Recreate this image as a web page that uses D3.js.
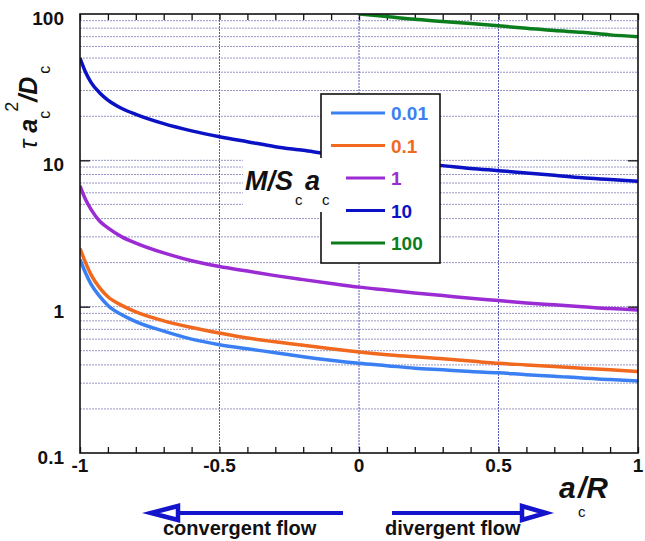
<!DOCTYPE html>
<meta charset="utf-8">
<style>
    body { margin: 0; background: #fff; }
    svg text { font-family: Arial, "Liberation Sans", sans-serif; }
    .tick-label { font-size: 19px; font-weight: bold; fill: #111; }
    .legend-label { font-size: 19px; font-weight: bold; }
    .flow-label { font-size: 20px; font-weight: bold; fill: #111; }
</style>
<svg class="chart" width="645" height="541"></svg>
<script src="https://cdn.jsdelivr.net/npm/d3@7/dist/d3.min.js"></script>
<script>
    var xs = [-1, -0.98, -0.96, -0.93, -0.9, -0.85, -0.8, -0.7, -0.6, -0.5, -0.4, -0.3, -0.2, -0.1,
              0, 0.1, 0.2, 0.3, 0.4, 0.5, 0.6, 0.7, 0.8, 0.9, 1];
    var xsGreen = [0, 0.1, 0.2, 0.3, 0.4, 0.5, 0.6, 0.7, 0.8, 0.9, 1];

    var s001 = [2.1, 1.7, 1.42, 1.18, 1.02, 0.88, 0.79, 0.68, 0.6, 0.55, 0.515, 0.485, 0.455, 0.43,
                0.41, 0.395, 0.38, 0.37, 0.36, 0.353, 0.343, 0.335, 0.325, 0.318, 0.31];
    var s01 = [2.5, 2.0, 1.65, 1.35, 1.17, 1.02, 0.92, 0.8, 0.72, 0.66, 0.61, 0.575, 0.545, 0.515,
               0.49, 0.47, 0.455, 0.44, 0.425, 0.41, 0.4, 0.39, 0.38, 0.37, 0.36];
    var s1 = [6.7, 5.4, 4.6, 3.85, 3.45, 3.0, 2.72, 2.33, 2.06, 1.88, 1.75, 1.63, 1.53, 1.44,
              1.36, 1.3, 1.24, 1.19, 1.14, 1.1, 1.06, 1.03, 1.0, 0.97, 0.95];
    var s10 = [50, 40, 34, 29, 25.8, 22.6, 20.6, 17.8, 15.9, 14.5, 13.4, 12.4, 11.7, 11.0,
               10.5, 10.0, 9.6, 9.2, 8.8, 8.5, 8.2, 7.9, 7.6, 7.4, 7.2];
    var s100 = [100, 96, 92, 89, 86, 83, 80, 77, 75, 72, 70];

    var legendNames = ["0.01", "0.1", "1", "10", "100"];
    var colors = ["#3b80f2", "#f0691e", "#9b2bd2", "#0b11c4", "#0c7d1c"];

    var xTickLabels = [-1, -0.5, 0, 0.5, 1];
    var yTickLabels = [0.1, 1, 10, 100];

    var series = [
        { x: xs, y: s001 },
        { x: xs, y: s01 },
        { x: xs, y: s1 },
        { x: xs, y: s10 },
        { x: xsGreen, y: s100 }
    ];

    var pLeft = 80, pRight = 638, pTop = 14, pBottom = 453;

    var x = d3.scaleLinear().domain([-1, 1]).range([pLeft, pRight]);
    var y = d3.scaleLog().domain([0.1, 100]).range([pBottom, pTop]);

    var svg = d3.select(".chart");

    // grid
    var minor = [];
    [0.1, 1, 10].forEach(function (d) {
        for (var k = 1; k <= 9; k++) minor.push(d * k);
    });
    svg.append("g").selectAll("line")
        .data(minor.filter(function (d) { return d > 0.1 && d < 100; }))
        .enter().append("line")
        .attr("x1", pLeft).attr("x2", pRight)
        .attr("y1", function (d) { return y(d); })
        .attr("y2", function (d) { return y(d); })
        .attr("stroke", "#9696c6")
        .attr("stroke-width", 1)
        .attr("stroke-dasharray", "2,1");

    svg.append("g").selectAll("line")
        .data([-0.5, 0, 0.5])
        .enter().append("line")
        .attr("x1", function (d) { return x(d); })
        .attr("x2", function (d) { return x(d); })
        .attr("y1", pTop).attr("y2", pBottom)
        .attr("stroke", "#5a5ab8")
        .attr("stroke-width", 1)
        .attr("stroke-dasharray", "2,1");

    // axes with inward ticks
    var xMinor = d3.range(-10, 11).map(function (i) { return i / 10; });
    svg.append("g")
        .attr("transform", "translate(0," + pBottom + ")")
        .call(d3.axisTop(x).tickValues(xMinor).tickSize(6).tickFormat(""))
        .call(function (g) { g.select(".domain").remove(); });
    svg.append("g")
        .attr("transform", "translate(0," + pTop + ")")
        .call(d3.axisBottom(x).tickValues(xMinor).tickSize(6).tickFormat(""))
        .call(function (g) { g.select(".domain").remove(); });
    svg.append("g")
        .attr("transform", "translate(" + pLeft + ",0)")
        .call(d3.axisRight(y).tickValues([1, 10]).tickSize(10).tickFormat(""))
        .call(function (g) { g.select(".domain").remove(); });
    svg.append("g")
        .attr("transform", "translate(" + pRight + ",0)")
        .call(d3.axisLeft(y).tickValues([1, 10]).tickSize(10).tickFormat(""))
        .call(function (g) { g.select(".domain").remove(); });

    svg.selectAll(".tick line").attr("stroke", "#111").attr("stroke-width", 1.3);

    // tick labels
    svg.append("g").selectAll("text")
        .data(yTickLabels)
        .enter().append("text")
        .attr("class", "tick-label")
        .attr("x", 64)
        .attr("y", function (d) { return y(d) + 11; })
        .attr("text-anchor", "end")
        .text(function (d) { return d; });

    svg.append("g").selectAll("text")
        .data(xTickLabels)
        .enter().append("text")
        .attr("class", "tick-label")
        .attr("x", function (d) { return x(d); })
        .attr("y", 472)
        .attr("text-anchor", "middle")
        .text(function (d) { return d; });

    // curves
    var line = d3.line()
        .x(function (d) { return x(d[0]); })
        .y(function (d) { return y(d[1]); })
        .curve(d3.curveMonotoneX);

    var clip = svg.append("clipPath").attr("id", "plot-clip");
    clip.append("rect").attr("x", pLeft).attr("y", pTop)
        .attr("width", pRight - pLeft).attr("height", pBottom - pTop);

    svg.append("g").attr("clip-path", "url(#plot-clip)")
        .selectAll("path")
        .data(series)
        .enter().append("path")
        .attr("d", function (s) { return line(d3.zip(s.x, s.y)); })
        .attr("fill", "none")
        .attr("stroke", function (s, i) { return colors[i]; })
        .attr("stroke-width", 3.5);

    // frame
    svg.append("rect")
        .attr("x", pLeft).attr("y", pTop)
        .attr("width", pRight - pLeft).attr("height", pBottom - pTop)
        .attr("fill", "none")
        .attr("stroke", "#111")
        .attr("stroke-width", 1.6);

    // legend
    var legend = svg.append("g");
    legend.append("rect")
        .attr("x", 321).attr("y", 94)
        .attr("width", 119).attr("height", 169)
        .attr("fill", "#fff")
        .attr("stroke", "#111")
        .attr("stroke-width", 1.6);

    var item = legend.selectAll("g.item")
        .data(legendNames)
        .enter().append("g")
        .attr("class", "item")
        .attr("transform", function (d, i) { return "translate(0," + (113 + i * 32.5) + ")"; });
    item.append("line")
        .attr("x1", 331).attr("x2", 385)
        .attr("stroke", function (d, i) { return colors[i]; })
        .attr("stroke-width", 3);
    item.append("text")
        .attr("class", "legend-label")
        .attr("x", 391)
        .attr("y", 7)
        .attr("fill", function (d, i) { return colors[i]; })
        .text(function (d) { return d; });

    // legend title with white background
    svg.append("rect")
        .attr("x", 243).attr("y", 158)
        .attr("width", 103).attr("height", 54)
        .attr("fill", "#fff");
    var title = svg.append("text")
        .attr("x", 245).attr("y", 190)
        .attr("font-size", 27).attr("font-weight", "bold").attr("font-style", "italic")
        .attr("fill", "#111");
    title.append("tspan").text("M/S");
    title.append("tspan").attr("x", 295).attr("y", 205)
        .attr("font-size", 15).attr("font-weight", "normal").attr("font-style", "normal").text("c");
    title.append("tspan").attr("x", 305).attr("y", 190).text("a");
    title.append("tspan").attr("x", 322).attr("y", 205)
        .attr("font-size", 15).attr("font-weight", "normal").attr("font-style", "normal").text("c");

    // y axis title
    var yt = svg.append("text")
        .attr("transform", "translate(37,149) rotate(-90)")
        .attr("font-size", 25).attr("font-weight", "bold").attr("font-style", "italic")
        .attr("fill", "#111");
    yt.append("tspan").attr("font-weight", "normal").text("\u03c4");
    yt.append("tspan").text(" a");
    yt.append("tspan").attr("dy", 13).attr("font-size", 16)
        .attr("font-weight", "normal").attr("font-style", "normal").text("c");
    yt.append("tspan").attr("dy", -32).attr("dx", -1).attr("font-size", 18)
        .attr("font-weight", "normal").attr("font-style", "normal").text("2");
    yt.append("tspan").attr("dy", 19).text("/D");
    yt.append("tspan").attr("dy", 13).attr("dx", 3).attr("font-size", 16)
        .attr("font-weight", "normal").attr("font-style", "normal").text("c");

    // x axis title
    var xt = svg.append("text")
        .attr("font-size", 30).attr("font-weight", "bold").attr("font-style", "italic")
        .attr("fill", "#111");
    xt.append("tspan").attr("x", 559).attr("y", 498).text("a");
    xt.append("tspan").attr("x", 578).attr("y", 517).attr("font-size", 15)
        .attr("font-weight", "normal").attr("font-style", "normal").text("c");
    xt.append("tspan").attr("x", 578).attr("y", 498).text("/R");

    // flow arrows
    var arrowColor = "#1414cc";
    var ay = 513;
    var arrows = svg.append("g");
    arrows.append("line").attr("x1", 343).attr("x2", 176).attr("y1", ay).attr("y2", ay)
        .attr("stroke", arrowColor).attr("stroke-width", 4);
    arrows.append("path")
        .attr("d", "M151," + ay + " L178," + (ay - 7) + " L178," + (ay + 7) + " Z")
        .attr("fill", "#fff").attr("stroke", arrowColor).attr("stroke-width", 4.5)
        .attr("stroke-linejoin", "miter");
    arrows.append("line").attr("x1", 392).attr("x2", 524).attr("y1", ay).attr("y2", ay)
        .attr("stroke", arrowColor).attr("stroke-width", 4);
    arrows.append("path")
        .attr("d", "M546," + ay + " L522," + (ay - 7) + " L522," + (ay + 7) + " Z")
        .attr("fill", "#fff").attr("stroke", arrowColor).attr("stroke-width", 4.5)
        .attr("stroke-linejoin", "miter");

    svg.append("text").attr("class", "flow-label")
        .attr("x", 163).attr("y", 535).text("convergent flow");
    svg.append("text").attr("class", "flow-label")
        .attr("x", 385).attr("y", 535).text("divergent flow");
</script>
